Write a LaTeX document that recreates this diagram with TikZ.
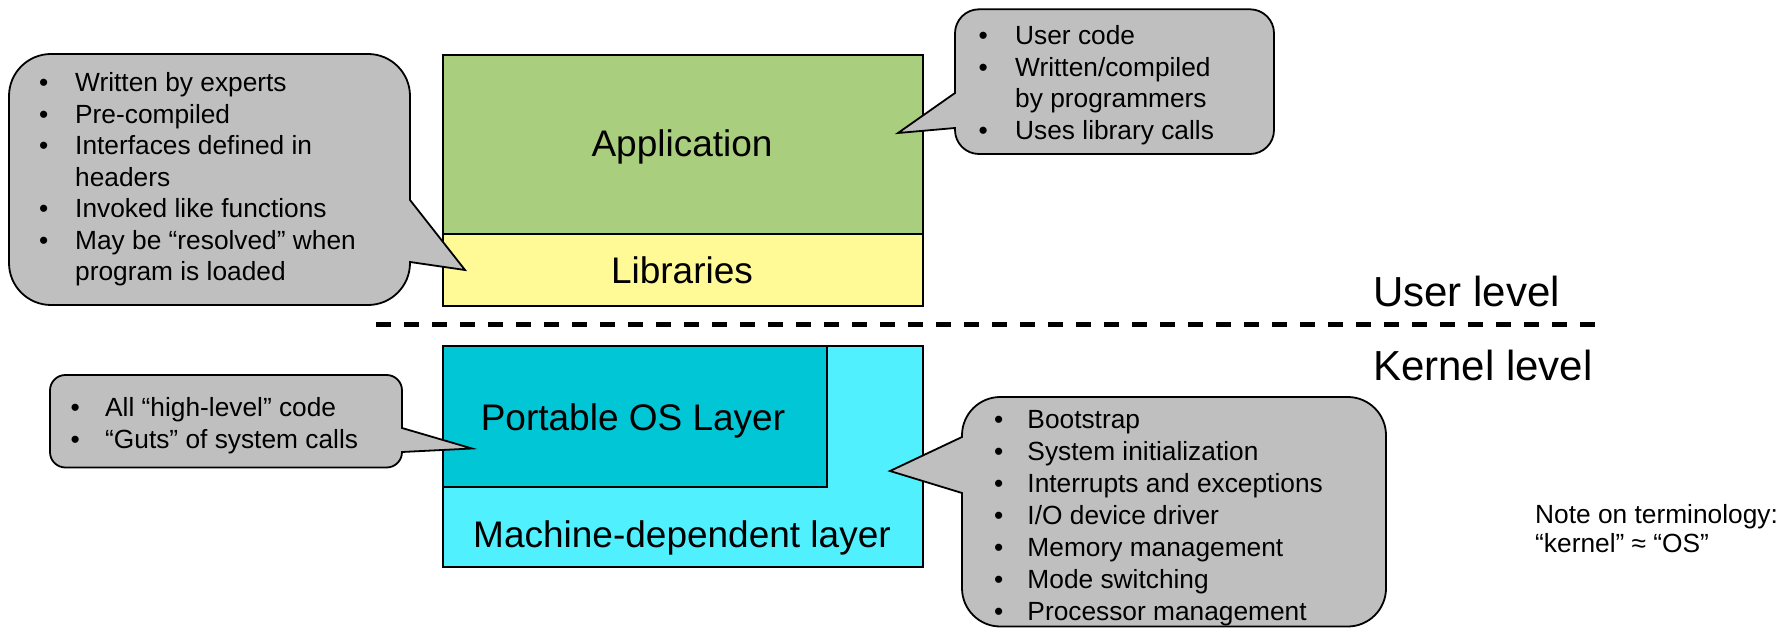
\documentclass[tikz,border=0pt]{standalone}
\usepackage{fontspec}
\setmainfont{Liberation Sans}
\usetikzlibrary{positioning}

\definecolor{appgreen}{RGB}{169,206,126}
\definecolor{libyellow}{RGB}{255,249,150}
\definecolor{portteal}{RGB}{0,198,214}
\definecolor{machcyan}{RGB}{80,240,255}
\definecolor{calloutgray}{RGB}{191,191,191}

\tikzset{
  layerbox/.style={draw=black, line width=1.8pt, inner sep=0pt, anchor=north west},
  callout/.style={draw=black, line width=1.8pt, fill=calloutgray, line join=miter},
  boxlabel/.style={font=\fontsize{37}{44}\selectfont, anchor=base, inner sep=0pt},
  levellabel/.style={font=\fontsize{42}{50}\selectfont, anchor=base west, inner sep=0pt},
  notelist/.style={font=\fontsize{26.3}{31.5}\selectfont, anchor=base west, inner sep=0pt},
  notetext/.style={font=\fontsize{26.3}{29}\selectfont, anchor=base west, inner sep=0pt, align=left},
}

% bullet cell of a given width
\newcommand{\bul}[1]{\makebox[#1][l]{•}}
\newcommand{\nobul}[1]{\makebox[#1][l]{}}

\begin{document}
\begin{tikzpicture}[x=1pt, y=-1pt]
\useasboundingbox (0,0) rectangle (1782,628);

% ---- user-level stack
\node[layerbox, fill=appgreen, minimum width=480pt, minimum height=179pt] (app) at (442,54) {};
\node[layerbox, fill=libyellow, minimum width=480pt, minimum height=72pt] (lib) at (442,233) {};
\node[boxlabel] (applbl) at (682,157) {Application};
\node[boxlabel] (liblbl) at (682,283.5) {Libraries};

% ---- kernel-level stack
\node[layerbox, fill=machcyan, minimum width=480pt, minimum height=221pt] (mach) at (442,345) {};
\node[layerbox, fill=portteal, minimum width=384pt, minimum height=141pt] (port) at (442,345) {};
\node[boxlabel] (portlbl) at (633,430.5) {Portable OS Layer};
\node[boxlabel] (machlbl) at (682,547) {Machine-dependent layer};

% ---- user / kernel boundary
\coordinate (divL) at (376,324.5);
\coordinate (divR) at (1597,324.5);
\draw[line width=4.3pt, dash pattern=on 15pt off 13pt] (divL) -- (divR);
\node[levellabel] (userlvl) at (1373,306.7) {User level};
\node[levellabel] (kernlvl) at (1373,380.7) {Kernel level};

% ---- callouts
% libraries
\draw[callout] (51,54) -- (368,54) arc[start angle=90,end angle=0,radius=42pt]
  -- (410,200) -- (465,270) -- (410,262) -- (410,263)
  arc[start angle=0,end angle=-90,radius=42pt] -- (51,305)
  arc[start angle=-90,end angle=-180,radius=42pt] -- (9,96)
  arc[start angle=180,end angle=90,radius=42pt] -- cycle;
% application
\draw[callout] (979,9.3) -- (1250,9.3) arc[start angle=90,end angle=0,radius=24pt]
  -- (1274,130) arc[start angle=0,end angle=-90,radius=24pt] -- (979,154)
  arc[start angle=-90,end angle=-180,radius=24pt] -- (955,130)
  -- (955,128) -- (898,133) -- (955,93) -- (955,33.3)
  arc[start angle=180,end angle=90,radius=24pt] -- cycle;
% portable layer
\draw[callout] (65.4,375) -- (386.6,375) arc[start angle=90,end angle=0,radius=15.4pt]
  -- (402,428) -- (472,448.5) -- (402,452) -- (402,452.1)
  arc[start angle=0,end angle=-90,radius=15.4pt] -- (65.4,467.5)
  arc[start angle=-90,end angle=-180,radius=15.4pt] -- (50,390.4)
  arc[start angle=180,end angle=90,radius=15.4pt] -- cycle;
% machine-dependent layer
\draw[callout] (1000.3,397) -- (1347.7,397) arc[start angle=90,end angle=0,radius=38.3pt]
  -- (1386,588.2) arc[start angle=0,end angle=-90,radius=38.3pt] -- (1000.3,626.5)
  arc[start angle=-90,end angle=-180,radius=38.3pt] -- (962,588.2)
  -- (962,493) -- (890,471) -- (962,437) -- (962,435.3)
  arc[start angle=180,end angle=90,radius=38.3pt] -- cycle;

% ---- callout texts
\node[notelist] (libnotes) at (38.8,92) {\begin{tabular}[t]{@{}l@{}l@{}}
  \bul{36.2pt} & Written by experts\\
  \bul{36.2pt} & Pre-compiled\\
  \bul{36.2pt} & Interfaces defined in\\
  \nobul{36.2pt} & headers\\
  \bul{36.2pt} & Invoked like functions\\
  \bul{36.2pt} & May be “resolved” when\\
  \nobul{36.2pt} & program is loaded
\end{tabular}};

\node[notelist] (appnotes) at (978.5,45) {\begin{tabular}[t]{@{}l@{}l@{}}
  \bul{36.5pt} & User code\\
  \bul{36.5pt} & Written/compiled\\
  \nobul{36.5pt} & by programmers\\
  \bul{36.5pt} & Uses library calls
\end{tabular}};

\node[notelist] (portnotes) at (70.5,416.7) {\begin{tabular}[t]{@{}l@{}l@{}}
  \bul{34.5pt} & All “high-level” code\\
  \bul{34.5pt} & “Guts” of system calls
\end{tabular}};

\node[notelist, font=\fontsize{26.3}{31.9}\selectfont] (machnotes) at (993.8,428.7) {\begin{tabular}[t]{@{}l@{}l@{}}
  \bul{33.5pt} & Bootstrap\\
  \bul{33.5pt} & System initialization\\
  \bul{33.5pt} & Interrupts and exceptions\\
  \bul{33.5pt} & I/O device driver\\
  \bul{33.5pt} & Memory management\\
  \bul{33.5pt} & Mode switching\\
  \bul{33.5pt} & Processor management
\end{tabular}};

% ---- terminology note (anchored on its last line)
\node[notetext] (termnote) at (1535,552) {Note on terminology:\\“kernel” ≈ “OS”};

\end{tikzpicture}
\end{document}
